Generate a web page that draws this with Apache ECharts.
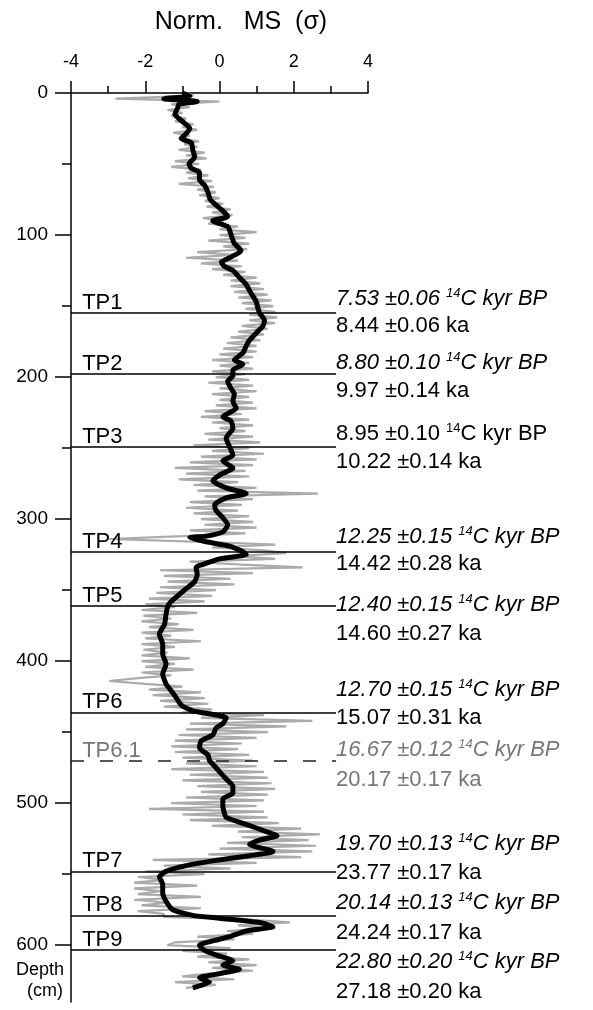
<!DOCTYPE html>
<html style="height: 100%; width: 100%">
  <head>
    <meta charset="utf-8" />
  </head>
  <body style="height: 100%; width: 100%; margin: 0">
    <div id="chart-panel" style="height: 1010px; width: 593px"></div>
    <script
      type="text/javascript"
      src="https://fastly.jsdelivr.net/npm/echarts@6/dist/echarts.min.js"
    ></script>
    <script type="text/javascript">
      // raw normalized MS (grey), one value every 2 cm from 0 cm
      var grayStep = 2;
      var grayValues = [
        -0.9, -0.7, -2.8, 0.0, -1.3, -0.8, -1.4, -1.0, -1.3, -0.9,
        -1.2, -0.7, -1.0, -0.6, -1.25, -0.8, -1.1, -0.55, -0.95, -0.6,
        -1.1, -0.4, -0.9, -0.35, -1.2, -0.55, -1.3, -0.5, -0.9, -0.3,
        -0.85, -0.2, -1.1, -0.15, -0.6, -0.1, -0.55, 0.0, -0.4, 0.1,
        -0.35, 0.3, -0.2, 0.35, -0.45, 0.1, -0.3, 0.5, 0.0, 1.0,
        0.0, 0.7, -0.3, 0.8, 0.1, 0.75, -0.6, 0.4, -0.9, 0.5,
        -0.5, 0.6, -0.2, 0.7, 0.1, 1.0, 0.3, 1.1, 0.3, 1.2,
        0.4, 1.3, 0.5, 1.4, 0.6, 1.45, 0.7, 1.5, 0.8, 1.55,
        0.8, 1.5, 0.6, 1.3, 0.5, 1.2, 0.3, 1.1, 0.2, 1.0,
        0.1, 1.0, 0.0, 0.9, -0.2, 0.8, 0.0, 0.9, -0.2, 0.7,
        -0.1, 0.8, -0.3, 0.9, 0.0, 1.0, -0.2, 0.8, 0.0, 0.9,
        -0.1, 1.0, -0.4, 0.6, -0.5, 0.8, -0.2, 0.9, 0.0, 0.7,
        -0.4, 0.9, -0.3, 1.1, -0.7, 0.8, -0.2, 1.2, -0.5, 1.0,
        -0.8, 0.9, -1.2, 0.7, -0.9, 0.8, -1.1, 0.5, -0.7, 1.0,
        -0.6, 2.65, -0.4, 0.9, -0.8, 0.6, -0.9, 0.5, -0.7, 0.8,
        -0.5, 0.9, -0.4, 1.0, -0.8, 0.7, -1.0, -2.97, -0.5, 1.5,
        -0.2, 1.2, 1.8, 0.4, 1.5, -0.8, 0.6, 2.24, -1.6, 0.9,
        -1.5, 0.3, -1.4, 0.4, -1.6, -0.1, -1.7, -0.2, -1.9, -0.4,
        -2.0, -1.2, -2.1, -0.6, -2.05, -1.3, -2.1, -1.1, -1.9, -0.7,
        -2.1, -1.3, -2.0, -0.5, -2.1, -1.2, -2.05, -1.4, -2.1, -0.8,
        -2.1, -1.2, -2.0, -0.7, -2.1, -1.3, -2.2, -2.97, -2.0, -1.0,
        -1.9, -0.5, -1.8, -0.4, -1.6, -0.3, -1.5, -0.2, -1.0, 1.2,
        -0.5, 2.5, -0.8, 1.8, -0.9, 1.3, -1.1, 1.0, -1.2, 0.6,
        -1.3, 0.5, -1.2, 0.8, -1.0, 0.9, -0.9, 1.0, -1.3, 1.2,
        -0.8, 1.3, -1.0, 1.4, -0.6, 1.5, -0.5, 1.3, -0.9, 1.2,
        -1.3, 1.0, -1.9, 1.2, -1.0, 1.3, -0.8, 1.6, -0.2, 2.2,
        0.5, 2.7, 0.6, 2.4, 0.2, 2.6, 0.0, 2.5, -0.3, 2.2,
        -1.8, 1.0, -1.5, 0.3, -2.0, -0.4, -2.2, -1.5, -2.3, -0.6,
        -2.3, -1.6, -2.2, -0.5, -2.3, -1.4, -2.1, -0.5, -2.2, -1.5,
        -1.5, 0.8, 1.9, 0.5, 1.5, 0.2, 0.9, -0.6, 0.4, -1.2,
        -1.4, 0.3, -1.0, 0.2, -0.6, 0.8, -0.3, 1.0, -0.2, 0.9,
        -0.3, -1.0, 0.4, -1.2, -0.1, -0.9
      ];

      // smoothed record (black): [depth cm, value]
      var smoothCurve = [
        [0, -1.0], [2, -0.8], [4, -1.5], [6, -0.6], [8, -1.1], [10, -1.12],
        [15, -1.2], [20, -1.0], [25, -0.8], [30, -0.95], [32, -1.03],
        [35, -0.76], [40, -0.72], [45, -0.67], [50, -0.82], [53, -0.76],
        [56, -0.54], [61, -0.54], [65, -0.4], [70, -0.31], [75, -0.25],
        [79, -0.09], [83, 0.09], [87, 0.22], [90, -0.18], [94, 0.22],
        [98, 0.29], [102, 0.34], [106, 0.4], [111, 0.58], [116, 0.27],
        [119, 0.05], [122, 0.13], [125, 0.36], [130, 0.54], [135, 0.72],
        [141, 0.85], [147, 0.99], [151, 1.03], [155, 1.08], [160, 1.21],
        [164, 1.17], [169, 0.99], [174, 0.81], [178, 0.72], [183, 0.63],
        [188, 0.4], [191, 0.63], [195, 0.36], [199, 0.36], [203, 0.22],
        [208, 0.31], [212, 0.4], [217, 0.36], [222, 0.45], [228, 0.09],
        [231, 0.31], [236, 0.36], [243, 0.18], [249, 0.27], [255, 0.36],
        [259, 0.09], [264, 0.36], [269, 0.0], [273, -0.18], [278, 0.18],
        [282, 0.72], [285, 0.18], [290, -0.13], [294, -0.09], [299, 0.09],
        [304, 0.22], [309, 0.09], [312, -0.36], [313, -0.8], [316, -0.36],
        [319, 0.27], [323, 0.63], [325, 0.72], [328, 0.0], [332, -0.45],
        [334, -0.63], [339, -0.6], [344, -0.67], [349, -0.9], [353, -1.08],
        [358, -1.3], [361, -1.39], [367, -1.44], [374, -1.48], [381, -1.62],
        [388, -1.53], [395, -1.53], [402, -1.44], [409, -1.53], [416, -1.44],
        [424, -1.21], [431, -1.03], [435, -0.72], [438, -0.09], [440, 0.18],
        [444, 0.09], [447, -0.09], [452, -0.18], [456, -0.49], [461, -0.54],
        [466, -0.31], [470, -0.27], [474, -0.13], [479, 0.04], [483, 0.18],
        [488, 0.36], [493, 0.36], [497, 0.09], [502, 0.09], [507, 0.13],
        [510, 0.18], [515, 0.72], [520, 1.26], [523, 1.55], [526, 1.08],
        [529, 0.81], [534, 1.44], [537, 0.81], [541, -0.27], [544, -0.9],
        [548, -1.44], [552, -1.62], [557, -1.53], [563, -1.53], [569, -1.44],
        [575, -1.26], [579, -0.72], [581, 0.0], [584, 1.08], [587, 1.44],
        [590, 0.72], [594, 0.27], [597, -0.18], [600, -0.54], [603, -0.45],
        [607, -0.09], [611, 0.36], [614, 0.09], [617, 0.54], [620, 0.0],
        [623, -0.54], [626, -0.27], [630, -0.72]
      ];

      // tie points
      var markerNames = ["TP1", "TP2", "TP3", "TP4", "TP5", "TP6", "TP6.1", "TP7", "TP8", "TP9"];
      var markerDepths = [155, 198, 249, 323, 361, 436, 470, 548, 579, 603];
      var c14Ages = ["7.53 ±0.06", "8.80 ±0.10", "8.95 ±0.10", "12.25 ±0.15", "12.40 ±0.15",
        "12.70 ±0.15", "16.67 ±0.12", "19.70 ±0.13", "20.14 ±0.13", "22.80 ±0.20"];
      var calAges = ["8.44 ±0.06", "9.97 ±0.14", "10.22 ±0.14", "14.42 ±0.28", "14.60 ±0.27",
        "15.07 ±0.31", "20.17 ±0.17", "23.77 ±0.17", "24.24 ±0.17", "27.18 ±0.20"];
      var c14Italic = [true, true, false, true, true, true, true, true, true, true];
      var tentative = [false, false, false, false, false, false, true, false, false, false];

      var xTicks = [-4, -2, 0, 2, 4];
      var depthTicks = [0, 100, 200, 300, 400, 500, 600];
      var depthMinorTicks = [50, 150, 250, 350, 450, 550];

      // layout: pixel offsets of the two age rows from each tie line
      var rowShift = [[-14, 13], [-11, 17], [-13, 15], [-15, 12], [-1, 28],
        [-22, 6], [-11, 19], [-27, 2], [-12, 18], [12, 42]];
      var lineEndX = 3.14;
      var nameX = -3.7;

      var font = "Liberation Sans, Arial, Helvetica, sans-serif";
      var ink = "#000";
      var grayData = grayValues.map(function (v, i) { return [v, i * grayStep]; });
      var smoothData = smoothCurve.map(function (p) { return [p[1], p[0]]; });

      var textData = [];
      markerNames.forEach(function (name, i) {
        var col = tentative[i] ? "#777" : ink;
        textData.push({
          value: [nameX, markerDepths[i]],
          label: { formatter: name, color: col, offset: [0, -10] }
        });
        var sty = c14Italic[i] ? "i" : "n";
        var sup = c14Italic[i] ? "is" : "ns";
        textData.push({
          value: [lineEndX, markerDepths[i]],
          label: {
            formatter: "{" + sty + "|" + c14Ages[i] + " }{" + sup + "|14}{" + sty + "|C kyr BP}",
            offset: [0, rowShift[i][0]],
            rich: {
              i: { fontStyle: "italic", color: col, fontSize: 22, fontFamily: font, lineHeight: 24 },
              n: { color: col, fontSize: 22, fontFamily: font, lineHeight: 24 },
              is: { fontStyle: "italic", color: col, fontSize: 13, fontFamily: font, verticalAlign: "top", lineHeight: 14 },
              ns: { color: col, fontSize: 13, fontFamily: font, verticalAlign: "top", lineHeight: 14 }
            }
          }
        });
        textData.push({
          value: [lineEndX, markerDepths[i]],
          label: { formatter: calAges[i] + " ka", color: col, offset: [0, rowShift[i][1]] }
        });
      });

      var tpLines = markerDepths.map(function (d, i) {
        return [
          {
            coord: [-4, d],
            lineStyle: tentative[i]
              ? { type: [13, 16], color: "#222", width: 1.5 }
              : { type: "solid", color: ink, width: 1.5 }
          },
          { coord: [lineEndX, d] }
        ];
      });

      var dom = document.getElementById("chart-panel");
      var myChart = echarts.init(dom, null, { renderer: "canvas" });
      var option = {
        animation: false,
        backgroundColor: "#fff",
        textStyle: { fontFamily: font },
        grid: { left: 71, top: 93, width: 297, height: 909 },
        graphic: [
          {
            type: "text", x: 241, y: 22,
            style: { text: "Norm.   MS  (σ)", font: "25px " + font, fill: ink, align: "center", verticalAlign: "middle" }
          },
          {
            type: "text", x: 64, y: 970,
            style: { text: "Depth", font: "18px " + font, fill: ink, align: "right", verticalAlign: "middle" }
          },
          {
            type: "text", x: 63, y: 991,
            style: { text: "(cm)", font: "18px " + font, fill: ink, align: "right", verticalAlign: "middle" }
          }
        ],
        xAxis: {
          type: "value",
          position: "top",
          min: -4,
          max: 4,
          interval: 2,
          axisLine: { show: true, onZero: false, lineStyle: { color: ink, width: 1.5 } },
          axisTick: { show: true, length: 12, lineStyle: { color: ink, width: 1.5 }, customValues: xTicks },
          minorTick: { show: true, splitNumber: 2, length: 7, lineStyle: { color: ink, width: 1.5 } },
          axisLabel: { color: ink, fontSize: 18, margin: 22, customValues: xTicks },
          splitLine: { show: false }
        },
        yAxis: [
          {
            type: "value",
            inverse: true,
            min: 0,
            max: 640,
            position: "left",
            axisLine: { show: true, onZero: false, lineStyle: { color: ink, width: 1.5 } },
            axisTick: { show: true, length: 16, lineStyle: { color: ink, width: 1.5 }, customValues: depthTicks },
            axisLabel: { color: ink, fontSize: 19, margin: 23, customValues: depthTicks },
            splitLine: { show: false }
          },
          {
            type: "value",
            inverse: true,
            min: 0,
            max: 640,
            position: "left",
            offset: 0,
            axisLine: { show: false, onZero: false },
            axisTick: { show: true, length: 9, lineStyle: { color: ink, width: 1.5 }, customValues: depthMinorTicks },
            axisLabel: { show: false },
            splitLine: { show: false }
          }
        ],
        series: [
          {
            type: "line",
            data: grayData,
            showSymbol: false,
            symbol: "none",
            lineStyle: { color: "#ababab", width: 2.2 },
            z: 1,
            silent: true,
            markLine: {
              silent: true,
              symbol: ["none", "none"],
              label: { show: false },
              data: tpLines,
              z: 2
            }
          },
          {
            type: "line",
            data: smoothData,
            showSymbol: false,
            symbol: "none",
            smooth: 0.2,
            lineStyle: { color: "#000", width: 5 },
            z: 3,
            silent: true
          },
          {
            type: "scatter",
            data: textData,
            symbolSize: 0,
            silent: true,
            z: 4,
            itemStyle: { opacity: 1 },
            label: {
              show: true,
              position: "right",
              distance: 0,
              fontSize: 22,
              fontFamily: font,
              color: ink,
              opacity: 1
            }
          }
        ]
      };
      myChart.setOption(option);
    </script>
  </body>
</html>
